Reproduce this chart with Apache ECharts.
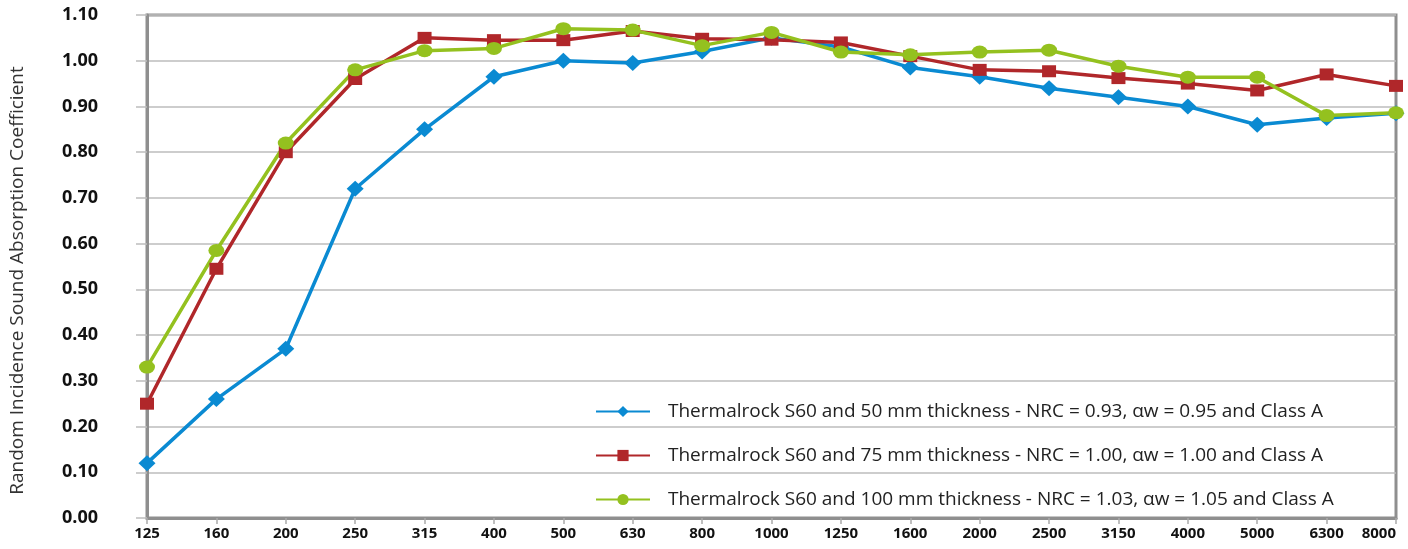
<!DOCTYPE html>
<html>
<head>
<meta charset="utf-8">
<script src="https://cdn.jsdelivr.net/npm/echarts@6/dist/echarts.min.js"></script>
<style>
html,body{margin:0;padding:0;background:#fff;}
#chart{width:1408px;height:549px;}
</style>
</head>
<body>
<div id="chart"></div>
<script>
const frequencies = ['125','160','200','250','315','400','500','630','800','1000','1250','1600','2000','2500','3150','4000','5000','6300','8000'];
const s50 = [0.12,0.26,0.37,0.72,0.85,0.965,1.00,0.995,1.02,1.05,1.03,0.985,0.965,0.94,0.92,0.90,0.86,0.875,0.885];
const s75 = [0.25,0.545,0.80,0.96,1.05,1.045,1.045,1.065,1.048,1.046,1.04,1.01,0.98,0.977,0.962,0.95,0.935,0.97,0.945];
const s100 = [0.33,0.585,0.82,0.98,1.022,1.027,1.07,1.067,1.033,1.062,1.019,1.013,1.019,1.023,0.988,0.964,0.964,0.88,0.886];
const seriesNames = [
  'Thermalrock S60 and 50 mm thickness - NRC = 0.93, \u03b1w = 0.95 and Class A',
  'Thermalrock S60 and 75 mm thickness - NRC = 1.00, \u03b1w = 1.00 and Class A',
  'Thermalrock S60 and 100 mm thickness - NRC = 1.03, \u03b1w = 1.05 and Class A'
];
const yAxisTitle = 'Random Incidence Sound Absorption Coefficient';

const colors = ['#0a8ad2', '#b0272a', '#94c11f'];
const chart = echarts.init(document.getElementById('chart'));
const font = '"Open Sans", Lato, sans-serif';

function mk(name, data, color, symbol, size) {
  return {
    name: name, type: 'line', data: data,
    symbol: symbol, symbolSize: size,
    itemStyle: { color: color },
    lineStyle: { color: color, width: 3.5 },
    emphasis: { disabled: true }
  };
}

chart.setOption({
  animation: false,
  textStyle: { fontFamily: font },
  grid: { left: 146, right: 12, top: 15, bottom: 31, show: true, borderColor: '#8f8f8f', borderWidth: 3, backgroundColor: 'transparent' },
  legend: {
    orient: 'vertical', left: 590, top: 395,
    itemWidth: 54, itemHeight: 14, itemGap: 21,
    textStyle: { fontSize: 19, color: '#222', fontFamily: font, lineHeight: 23, padding: [0,0,0,13] },
    data: seriesNames
  },
  xAxis: {
    type: 'category', data: frequencies, boundaryGap: false,
    axisLine: { lineStyle: { color: '#8f8f8f', width: 3 } },
    axisTick: { show: true, length: 6, alignWithLabel: true, lineStyle: { color: '#aaa', width: 1.5 } },
    axisLabel: { fontSize: 15, fontWeight: 'bold', color: '#111', margin: 8, alignMaxLabel: 'right', interval: 0, fontFamily: font },
    splitLine: { show: false }
  },
  yAxis: {
    type: 'value', min: 0, max: 1.1, interval: 0.1,
    name: yAxisTitle, nameLocation: 'middle', nameGap: 120,
    nameTextStyle: { fontSize: 19, color: '#333', fontFamily: font, padding: [0, 28, 0, 0] },
    axisLine: { show: true, lineStyle: { color: '#8f8f8f', width: 3 } },
    axisTick: { show: true, length: 11, lineStyle: { color: '#bdbdbd', width: 1.5 } },
    axisLabel: { fontSize: 18, fontWeight: 'bold', color: '#111', margin: 49, formatter: v => v.toFixed(2), fontFamily: font },
    splitLine: { show: true, lineStyle: { color: '#bdbdbd', width: 1.5 } }
  },
  series: [
    mk(seriesNames[0], s50, colors[0], 'diamond', [17, 16]),
    mk(seriesNames[1], s75, colors[1], 'rect', [14, 12]),
    mk(seriesNames[2], s100, colors[2], 'circle', [16, 13])
  ]
});
</script>
</body>
</html>
